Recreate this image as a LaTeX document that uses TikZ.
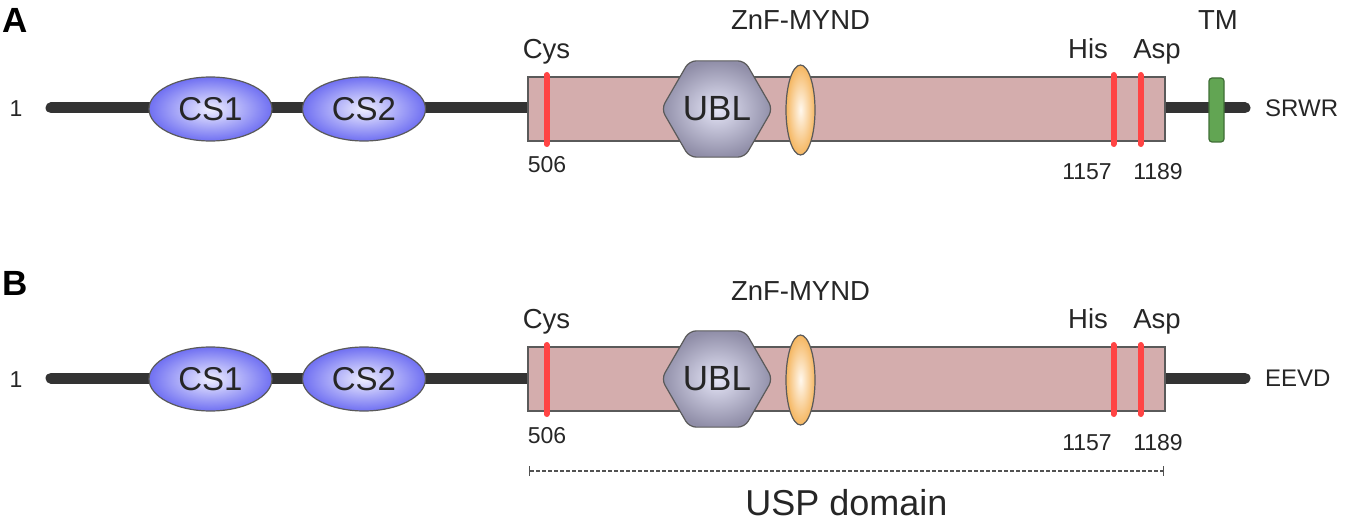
\documentclass[tikz,border=0pt]{standalone}
\usepackage{fontspec}
\setmainfont{Liberation Sans}
\usetikzlibrary{arrows.meta, positioning, shapes.geometric}
\usepackage{xcolor}
\definecolor{linedark}{HTML}{333333}
\definecolor{edgegray}{HTML}{5A5A5A}
\definecolor{uspfill}{HTML}{D4ADAD}
\definecolor{sitered}{HTML}{FF4444}
\definecolor{csblue}{HTML}{7070F2}
\definecolor{csinner}{HTML}{EEEEFF}
\definecolor{ublgray}{HTML}{908EA8}
\definecolor{ublinner}{HTML}{E4E4F6}
\definecolor{zforange}{HTML}{F5B660}
\definecolor{zfinner}{HTML}{FFF8EE}
\definecolor{tmgreen}{HTML}{62A553}
\definecolor{tmedge}{HTML}{3F6E36}
\definecolor{textdark}{HTML}{262626}

\begin{document}
\begin{tikzpicture}[x=1pt, y=-1pt,
    backbone/.style={line width=11pt, line cap=round, color=linedark},
    uspbox/.style={rectangle, draw=edgegray, line width=1.2pt, fill=uspfill,
                   minimum width=637pt, minimum height=64pt, inner sep=0pt},
    site/.style={line width=6pt, line cap=round, color=sitered},
    csdom/.style={ellipse, draw=edgegray, line width=1.2pt, inner sep=0pt,
                  minimum width=123pt, minimum height=64pt,
                  inner color=csinner, outer color=csblue,
                  font=\fontsize{33}{33}\selectfont, text=textdark},
    ubldom/.style={regular polygon, regular polygon sides=6, minimum size=101pt,
                   draw=edgegray, line width=1.2pt, inner sep=0pt, rounded corners=7pt,
                   inner color=ublinner, outer color=ublgray,
                   font=\fontsize{35}{35}\selectfont, text=textdark},
    zfdom/.style={ellipse, draw=edgegray, line width=1.2pt, inner sep=0pt,
                  minimum width=29pt, minimum height=90pt,
                  inner color=zfinner, outer color=zforange},
    tmdom/.style={rectangle, rounded corners=3pt, draw=tmedge, line width=1.2pt,
                  fill=tmgreen, minimum width=15pt, minimum height=64pt, inner sep=0pt},
    lbl/.style={anchor=base, inner sep=0pt, text=textdark,
                font=\fontsize{27.5}{30}\selectfont},
    posnum/.style={anchor=base, inner sep=0pt, text=textdark,
                   font=\fontsize{23}{25}\selectfont},
    tail/.style={anchor=base west, inner sep=0pt, text=textdark,
                 font=\fontsize{24}{26}\selectfont},
    panel/.style={anchor=base west, inner sep=0pt, text=black,
                  font=\fontsize{35}{36}\selectfont\bfseries},
    uspline/.style={{Bar[width=10pt]}-{Bar[width=10pt]}, line width=1.4pt,
                    dash pattern=on 3.5pt off 2.5pt, color=linedark!85}
  ]
    \useasboundingbox (0,0) rectangle (1346,521);

    \node[panel] (pa) at (2,33) {A};
    \node[panel] (pb) at (2,295) {B};

    \foreach \r/\yy in {a/108, b/378} {
      \begin{scope}[shift={(0,\yy)}]
        \coordinate (n-\r) at (51,0);
        \coordinate (c-\r) at (1245,0);
        \draw[backbone] (n-\r) -- (c-\r);

        \node[uspbox] (usp-\r) at (846.5,1) {};
        \draw[site] (546.5,-33) -- (546.5,36);
        \draw[site] (1113.5,-33) -- (1113.5,36);
        \draw[site] (1140.5,-33) -- (1140.5,36);

        \node[csdom] (cs1-\r) at (210.5,1) {CS1};
        \node[csdom] (cs2-\r) at (364,1) {CS2};
        \node[ubldom] (ubl-\r) at (717,1) {UBL};
        \node[zfdom] (zf-\r) at (800.5,2) {};

        \node[lbl] (cys-\r) at (546.5,-49.5) {Cys};
        \node[lbl] (his-\r) at (1088,-49.5) {His};
        \node[lbl] (asp-\r) at (1157,-49.5) {Asp};
        \node[lbl] (mynd-\r) at (800.5,-78) {ZnF-MYND};

        \node[posnum] (p506-\r) at (547,65) {506};
        \node[posnum] (p1157-\r) at (1087,72) {1157};
        \node[posnum] (p1189-\r) at (1158,72) {1189};
        \node[posnum] (p1-\r) at (16,9) {1};
      \end{scope}
    }

    % C-terminal end of A
    \node[tmdom] (tm) at (1216.5,110) {};
    \node[lbl] (tmlbl) at (1218,30) {TM};
    \node[tail] (srwr) at (1265,117) {SRWR};
    \node[tail] (eevd) at (1265,386) {EEVD};

    % USP domain bracket
    \coordinate (usp-l) at (529,471);
    \coordinate (usp-r) at (1164,471);
    \draw[uspline] (usp-l) -- (usp-r);
    \node[anchor=base, inner sep=0pt, text=textdark,
          font=\fontsize{36}{38}\selectfont] (usplbl) at (846.5,515) {USP domain};
  \end{tikzpicture}
\end{document}
